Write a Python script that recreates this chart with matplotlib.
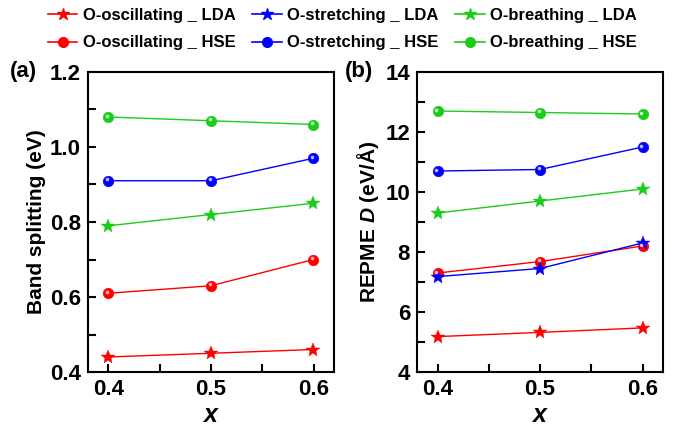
import matplotlib
matplotlib.use("Agg")
import matplotlib.pyplot as plt
from matplotlib.ticker import MultipleLocator
from matplotlib.lines import Line2D
import matplotlib.transforms as mtrans

plt.rcParams['font.family'] = ['Liberation Sans', 'DejaVu Sans']
plt.rcParams['font.weight'] = 'bold'
plt.rcParams['axes.labelweight'] = 'bold'
plt.rcParams['mathtext.fontset'] = 'custom'
plt.rcParams['mathtext.it'] = 'Liberation Sans:italic:bold'
plt.rcParams['mathtext.rm'] = 'Liberation Sans:bold'

x = [0.4, 0.5, 0.6]

# Panel (a): Band splitting (eV)
a_osc_lda = [0.44, 0.45, 0.46]
a_bre_lda = [0.79, 0.82, 0.85]
a_osc_hse = [0.61, 0.63, 0.70]
a_str_hse = [0.91, 0.91, 0.97]
a_bre_hse = [1.08, 1.07, 1.06]

# Panel (b): REPME D (eV/Å)
b_osc_lda = [5.18, 5.32, 5.47]
b_str_lda = [7.18, 7.45, 8.30]
b_bre_lda = [9.30, 9.70, 10.10]
b_osc_hse = [7.30, 7.68, 8.20]
b_str_hse = [10.70, 10.75, 11.50]
b_bre_hse = [12.70, 12.65, 12.60]

RED, BLUE, GREEN = '#ff0000', '#0000ff', '#1ccc1c'
LIGHT = {RED: '#ffb0b0', BLUE: '#b8b8ff', GREEN: '#c0f5c0'}

fig = plt.figure(figsize=(6.89, 4.28), dpi=100)
W, H = 689, 428
axa = fig.add_axes([88/W, 1-372/H, (334-88)/W, 300/H])
axb = fig.add_axes([417/W, 1-372/H, (663-417)/W, 300/H])

LW = 1.0
BALL = 7.5
STAR = 10.5

def hse(ax, y, c):
    ax.plot(x, y, '-', color=c, lw=LW, marker='o', ms=BALL, mfc=c, mec=c,
            mew=0.5, zorder=3)
    tr = mtrans.offset_copy(ax.transData, fig=fig, x=-1.3, y=1.3, units='dots')
    ax.plot(x, y, linestyle='none', marker='o', ms=2.6, mfc=LIGHT[c], mec='none',
            zorder=4, transform=tr)

def lda(ax, y, c):
    ax.plot(x, y, '-', color=c, lw=LW, marker='*', ms=STAR, mfc=c, mec=c,
            mew=0.3, zorder=3)

lda(axa, a_osc_lda, RED)
lda(axa, a_bre_lda, GREEN)
hse(axa, a_osc_hse, RED)
hse(axa, a_str_hse, BLUE)
hse(axa, a_bre_hse, GREEN)

lda(axb, b_osc_lda, RED)
hse(axb, b_osc_hse, RED)
lda(axb, b_str_lda, BLUE)
lda(axb, b_bre_lda, GREEN)
hse(axb, b_str_hse, BLUE)
hse(axb, b_bre_hse, GREEN)

for ax in (axa, axb):
    ax.set_xlim(0.38, 0.62)
    ax.xaxis.set_major_locator(MultipleLocator(0.1))
    ax.xaxis.set_minor_locator(MultipleLocator(0.05))
    ax.tick_params(which='both', direction='in', top=False, right=False,
                   labelsize=16, width=1.5, pad=5)
    ax.tick_params(which='major', length=6)
    ax.tick_params(which='minor', length=6)
    for s in ax.spines.values():
        s.set_linewidth(1.5)
    ax.set_xlabel('$x$', fontsize=18, labelpad=2)

axa.set_ylim(0.4, 1.2)
axa.set_yticks([0.4, 0.6, 0.8, 1.0, 1.2])
axa.set_yticklabels(['0.4', '0.6', '0.8', '1.0', '1.2'])
axa.yaxis.set_minor_locator(MultipleLocator(0.1))
axa.set_ylabel('Band splitting (eV)', fontsize=15, labelpad=3)

axb.set_ylim(4, 14)
axb.yaxis.set_major_locator(MultipleLocator(2))
axb.yaxis.set_minor_locator(MultipleLocator(1))
axb.set_ylabel('REPME $D$ (eV/Å)', fontsize=15, labelpad=3)

for ax in (axa, axb):
    for lab in ax.get_xticklabels() + ax.get_yticklabels():
        lab.set_fontweight('bold')

fig.text(10/W, 1-72/H, '(a)', fontsize=16, fontweight='bold', va='center')
fig.text(345/W, 1-72/H, '(b)', fontsize=16, fontweight='bold', va='center')

handles = [
    Line2D([], [], color=RED, marker='*', ms=9, lw=1.2),
    Line2D([], [], color=RED, marker='o', ms=7, lw=1.2),
    Line2D([], [], color=BLUE, marker='*', ms=9, lw=1.2),
    Line2D([], [], color=BLUE, marker='o', ms=7, lw=1.2),
    Line2D([], [], color=GREEN, marker='*', ms=9, lw=1.2),
    Line2D([], [], color=GREEN, marker='o', ms=7, lw=1.2),
]
labels = ['O-oscillating _ LDA', 'O-oscillating _ HSE',
          'O-stretching _ LDA', 'O-stretching _ HSE',
          'O-breathing _ LDA', 'O-breathing _ HSE']
fig.legend(handles, labels, ncol=3, loc='upper left',
           bbox_to_anchor=(38/W, 1+2/H),
           frameon=False, handlelength=1.75, handletextpad=0.35,
           columnspacing=1.0, labelspacing=0.75, borderpad=0.1,
           prop={'weight': 'bold', 'size': 12})

fig.savefig('out.png', dpi=100)
